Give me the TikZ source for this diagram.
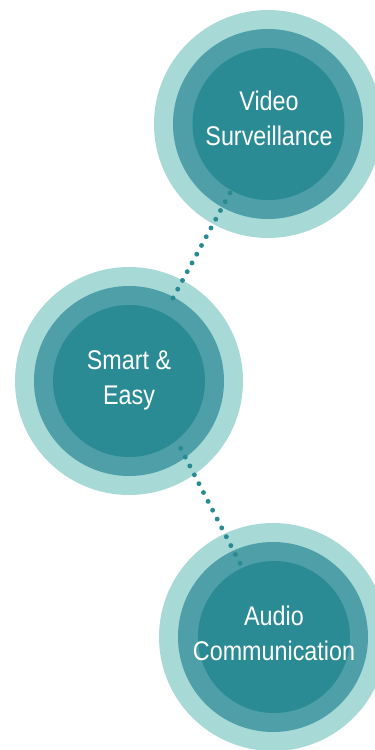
\documentclass[tikz,border=0pt]{standalone}
\usepackage{fontspec}
\setmainfont{Liberation Sans}[FakeStretch=0.864]
\definecolor{ringlight}{HTML}{A7D9D6}
\definecolor{ringmid}{HTML}{4E9FA8}
\definecolor{core}{HTML}{2A8B94}
\definecolor{dotc}{HTML}{2A8A92}
\begin{document}
\begin{tikzpicture}[x=1pt,y=-1pt,
  outerring/.style={circle,fill=ringlight,draw=none,minimum size=228pt,inner sep=0pt},
  midring/.style={circle,fill=ringmid,draw=none,minimum size=190pt,inner sep=0pt},
  corecircle/.style={circle,fill=core,draw=none,minimum size=152pt,inner sep=0pt},
  label text/.style={text=white,align=center,inner sep=0pt,font=\fontsize{27}{35}\selectfont},
  dotline/.style={draw=dotc,line width=4.9pt,line cap=round,dash pattern=on 0pt off 9.95pt}]
\useasboundingbox (0,0) rectangle (375,750);
\clip (0,0) rectangle (375,750);
\fill[white] (0,0) rectangle (375,750);
% outer rings
\node[outerring] (o1) at (268,124) {};
\node[outerring] (o2) at (129,381) {};
\node[outerring] (o3) at (273,637) {};
% middle rings
\node[midring] (m1) at (268,124) {};
\node[midring] (m2) at (129,381) {};
\node[midring] (m3) at (273,637) {};
% dotted connectors
\coordinate (a1) at (230,193);
\coordinate (a2) at (168.3,306.5);
\coordinate (b1) at (180.7,448.3);
\coordinate (b2) at (240,563.3);
\draw[dotline] (a1) -- (a2);
\draw[dotline] (b1) -- (b2);
% cores
\node[corecircle] (c1) at (268.5,124) {};
\node[corecircle] (c2) at (129,381) {};
\node[corecircle] (c3) at (274,637) {};
% texts
\node[label text] (t1) at (269,118) {Video\\Surveillance};
\node[label text] (t2) at (129,380) {Smart \&\\Easy};
\node[label text] (t3) at (274,633) {Audio\\Communication};
\end{tikzpicture}
\end{document}
